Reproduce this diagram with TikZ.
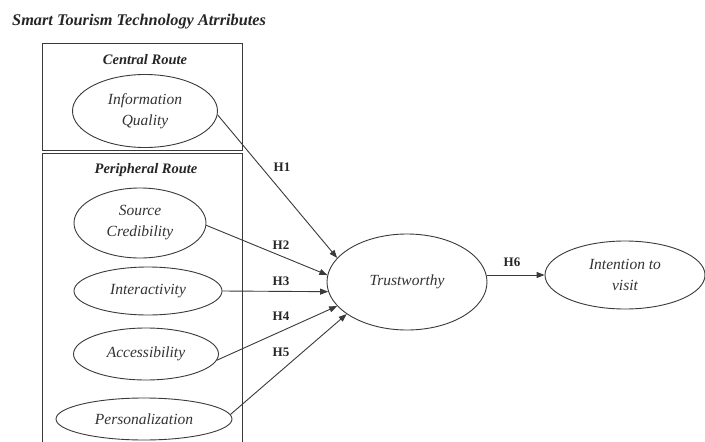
\documentclass[tikz,border=0pt]{standalone}
\usepackage{fontspec}
\setmainfont{Liberation Serif}
\usetikzlibrary{shapes.geometric,arrows.meta}
\definecolor{linegray}{HTML}{3A3A3A}
\definecolor{textgray}{HTML}{333333}
\tikzset{
  construct/.style={draw=linegray, line width=0.9pt, ellipse, inner sep=0pt, align=center,
    font=\fontsize{15.5}{21}\selectfont\itshape, text=textgray},
  routelabel/.style={font=\fontsize{14.5}{17}\selectfont\bfseries\itshape, text=black!85},
  hyp/.style={font=\fontsize{13}{15}\selectfont\bfseries, text=black!85},
  path/.style={draw=linegray, line width=0.9pt, -{Triangle[length=8pt,width=6pt]}},
  routebox/.style={draw=linegray, line width=1pt}
}
\begin{document}
\begin{tikzpicture}[x=1pt,y=-1pt]
\useasboundingbox (0,0) rectangle (705,442);
\fill[white] (0,0) rectangle (705,442);
% title
\node[routelabel, anchor=west, inner sep=0pt, font=\fontsize{16.3}{18}\selectfont\bfseries\itshape] (title) at (12,22) {Smart Tourism Technology Atrributes};
% route boxes
\draw[routebox] (42,43) rectangle (242,150);
\draw[routebox] (42,445) -- (42,153) -- (242,153) -- (242,445);
\node[routelabel] (central) at (145,60) {Central Route};
\node[routelabel] (periph) at (146,170) {Peripheral Route};
% constructs
\node[construct, minimum width=145pt, minimum height=73pt] (iq) at (145,111) {Information\\Quality};
\node[construct, minimum width=132pt, minimum height=70pt] (sc) at (140,223) {Source\\Credibility};
\node[construct, minimum width=148pt, minimum height=48pt] (inter) at (148,291) {Interactivity};
\node[construct, minimum width=145pt, minimum height=52pt] (acc) at (146,354) {Accessibility};
\node[construct, minimum width=176pt, minimum height=42pt] (pers) at (144,419) {Personalization};
\node[construct, minimum width=160pt, minimum height=96pt] (trust) at (407,282) {Trustworthy};
\node[construct, minimum width=160pt, minimum height=68pt] (int) at (625,275) {Intention to\\visit};
% paths
\draw[path] (iq.-3) -- (trust.161);
\draw[path] (sc.-2) -- (trust.175);
\draw[path] (inter.east) -- (trust.187);
\draw[path] (acc.-5) -- (trust.199);
\draw[path] (pers.3) -- (trust.208);
\draw[path] (trust.east |- int.west) -- (int.west);
% hypothesis labels
\node[hyp] (h1) at (282,167) {H1};
\node[hyp] (h2) at (281,245) {H2};
\node[hyp] (h3) at (281,281) {H3};
\node[hyp] (h4) at (281,316) {H4};
\node[hyp] (h5) at (281,352) {H5};
\node[hyp] (h6) at (512,262) {H6};
\end{tikzpicture}
\end{document}
